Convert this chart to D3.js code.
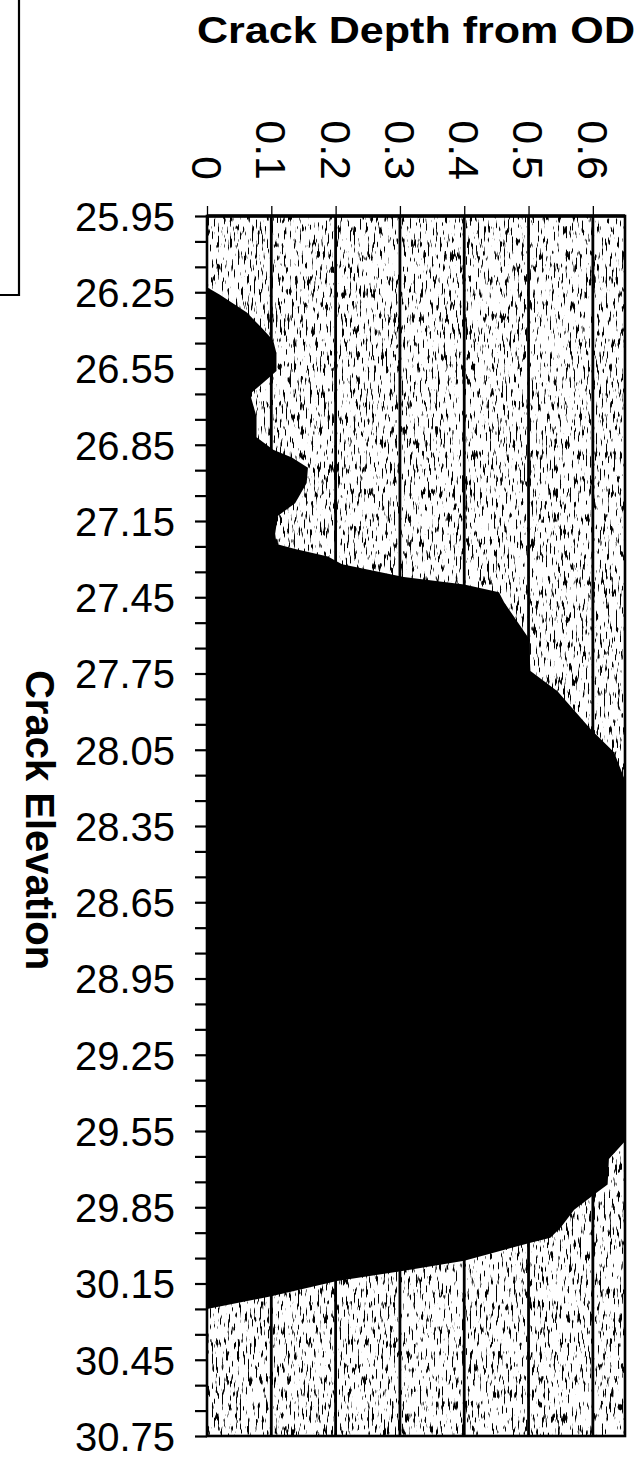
<!DOCTYPE html>
<html>
<head>
<meta charset="utf-8">
<script src="https://cdn.jsdelivr.net/npm/d3@7"></script>
<style>
  html, body { margin: 0; padding: 0; background: #fff; }
  svg { display: block; font-family: "Liberation Sans", Arial, sans-serif; }
</style>
</head>
<body>
<script>
// crack profile
const elevation = [25.95, 26.23, 26.26, 26.33, 26.39, 26.44, 26.49, 26.56, 26.60, 26.65,
  26.74, 26.82, 26.87, 26.90, 26.94, 27.00, 27.08, 27.13, 27.20, 27.24,
  27.26, 27.29, 27.32, 27.37, 27.40, 27.43, 27.47, 27.61, 27.74, 27.82,
  27.97, 28.06, 28.17, 29.59, 29.66, 29.76, 29.80, 29.81, 29.86, 29.93,
  29.97, 29.99, 30.06, 30.10, 30.14, 30.20, 30.25, 30.75];
const depth = [0, 0, 0.02, 0.062, 0.085, 0.103, 0.108, 0.108, 0.09, 0.067,
  0.077, 0.077, 0.103, 0.132, 0.157, 0.155, 0.137, 0.11, 0.106, 0.108,
  0.137, 0.188, 0.21, 0.306, 0.40, 0.454, 0.462, 0.50, 0.503, 0.545,
  0.597, 0.633, 0.65, 0.65, 0.625, 0.623, 0.602, 0.597, 0.571, 0.55,
  0.534, 0.503, 0.40, 0.306, 0.202, 0.10, 0, 0];

const depthTicks = [0, 0.1, 0.2, 0.3, 0.4, 0.5, 0.6];
const depthLabels = ['0', '0.1', '0.2', '0.3', '0.4', '0.5', '0.6'];
const elevLabels = ['25.95', '26.25', '26.55', '26.85', '27.15', '27.45', '27.75', '28.05', '28.35',
  '28.65', '28.95', '29.25', '29.55', '29.85', '30.15', '30.45', '30.75'];
const elevMinor = d3.range(0, 49).map(i => +(25.95 + i * 0.1).toFixed(2));

const W = 641, H = 1460;
const margin = { top: 216, left: 207, right: 16, bottom: 24 };

const svg = d3.select('body').append('svg').attr('width', W).attr('height', H);

const x = d3.scaleLinear().domain([0, 0.65]).range([margin.left, W - margin.right]);
const y = d3.scaleLinear().domain([25.95, 30.75]).range([margin.top, H - margin.bottom]);

// scanned grey stipple
const defs = svg.append('defs');
const f = defs.append('filter').attr('id', 'stipple')
  .attr('x', 0).attr('y', 0).attr('width', 1).attr('height', 1);
f.append('feTurbulence').attr('type', 'fractalNoise')
  .attr('baseFrequency', '0.5 0.08').attr('numOctaves', 2).attr('seed', 7);
f.append('feColorMatrix').attr('type', 'matrix')
  .attr('values', '0 0 0 0 0  0 0 0 0 0  0 0 0 0 0  11 0 0 0 -6.4');

const plotW = x(0.65) - x(0), plotH = y(30.75) - y(25.95);
svg.append('rect').attr('x', x(0)).attr('y', y(25.95)).attr('width', plotW).attr('height', plotH)
  .attr('fill', '#fff');
svg.append('rect').attr('x', x(0)).attr('y', y(25.95)).attr('width', plotW).attr('height', plotH)
  .attr('fill', '#000').attr('filter', 'url(#stipple)');

// gridlines
svg.append('g').selectAll('line')
  .data(depthTicks.slice(1))
  .enter().append('line')
    .attr('x1', d => x(d)).attr('x2', d => x(d))
    .attr('y1', y(25.95)).attr('y2', y(30.75))
    .attr('stroke', '#000').attr('stroke-width', 2.8);

// crack area
const area = d3.area()
  .y((d, i) => y(elevation[i]))
  .x0(x(0))
  .x1((d, i) => x(depth[i]));
svg.append('path').datum(depth).attr('d', area).attr('fill', '#000');

// frame
svg.append('rect').attr('x', x(0)).attr('y', y(25.95)).attr('width', plotW).attr('height', plotH)
  .attr('fill', 'none').attr('stroke', '#000').attr('stroke-width', 2.6);
svg.append('line').attr('x1', x(0)).attr('x2', x(0.65)).attr('y1', y(25.95)).attr('y2', y(25.95))
  .attr('stroke', '#000').attr('stroke-width', 3.5);

// left axis
const yAxis = d3.axisLeft(y).tickValues(elevMinor).tickSize(12).tickPadding(20)
  .tickFormat((d, i) => (i % 3 === 0 ? elevLabels[i / 3] : ''));
const gy = svg.append('g').attr('transform', `translate(${x(0)},0)`).call(yAxis);
gy.select('.domain').remove();
gy.selectAll('line').attr('stroke-width', 2.2);
gy.selectAll('text').attr('font-size', 40).attr('fill', '#000').attr('dy', '0.36em');

// top axis
const xAxis = d3.axisTop(x).tickValues(depthTicks).tickSize(10).tickFormat('');
const gx = svg.append('g').attr('transform', `translate(0,${y(25.95)})`).call(xAxis);
gx.select('.domain').remove();
gx.selectAll('line').attr('stroke-width', 1.3);

svg.append('g').selectAll('text')
  .data(depthTicks)
  .enter().append('text')
    .attr('transform', d => `translate(${x(d)},180) rotate(90)`)
    .attr('text-anchor', 'end')
    .attr('dy', '0.35em')
    .attr('font-size', 43)
    .text((d, i) => depthLabels[i]);

// titles
svg.append('text')
  .attr('x', 197).attr('y', 43)
  .attr('font-size', 36).attr('font-weight', 'bold')
  .attr('textLength', 438).attr('lengthAdjust', 'spacingAndGlyphs')
  .text('Crack Depth from OD');

svg.append('text')
  .attr('transform', 'translate(40,820) rotate(90)')
  .attr('text-anchor', 'middle')
  .attr('dy', '0.35em')
  .attr('font-size', 40).attr('font-weight', 'bold')
  .text('Crack Elevation');

// clipped legend frame at top left
svg.append('path')
  .attr('d', 'M0,295H19V0')
  .attr('fill', 'none').attr('stroke', '#000').attr('stroke-width', 2.2);
</script>
</body>
</html>
